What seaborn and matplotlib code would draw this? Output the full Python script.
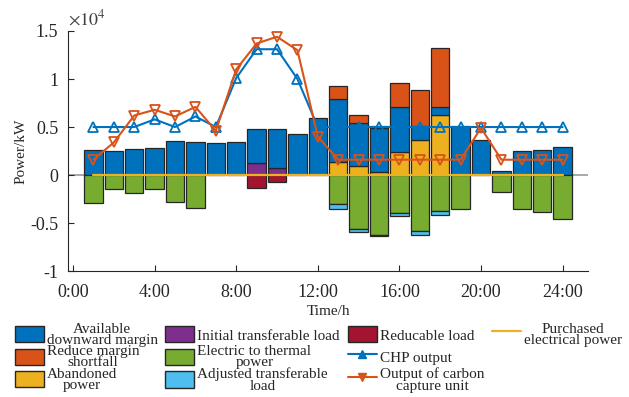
import numpy as np
import matplotlib
matplotlib.use("Agg")
import matplotlib.pyplot as plt
from matplotlib.patches import Patch, Rectangle
from matplotlib.lines import Line2D
from matplotlib.legend_handler import HandlerPatch
import seaborn as sns

# ---------------- data (kW) ----------------
hours = np.arange(1, 25)
abandoned = np.array([0, 0, 0, 0, 0, 0, 0, 0, 0, 0, 0, 0,
                      1400, 900, 300, 2400, 3700, 6250, 0, 0, 0, 0, 0, 0])
initial_transfer = np.array([0, 0, 0, 0, 0, 0, 0, 0, 1300, 700, 0, 0,
                             0, 0, 0, 0, 0, 0, 0, 0, 0, 0, 0, 0])
downward_margin = np.array([2600, 2500, 2700, 2800, 3500, 3400, 3300, 3400, 3500, 4100, 4300, 5900,
                            6500, 4500, 4600, 4650, 1400, 800, 5100, 3650, 450, 2500, 2600, 2900])
margin_shortfall = np.array([0, 0, 0, 0, 0, 0, 0, 0, 0, 0, 0, 0,
                             1400, 900, 200, 2500, 3800, 6150, 0, 0, 0, 0, 0, 0])
reducable = np.array([0, 0, 0, 0, 0, 0, 0, 0, -1300, -700, 0, 0,
                      0, 0, 0, 0, 0, 0, 0, 0, 0, 0, 0, 0])
elec_thermal = np.array([-2900, -1500, -1900, -1500, -2800, -3400, 0, 0, 0, 0, 0, 0,
                         -3000, -5600, -6200, -3900, -5800, -3750, -3500, 0, -1800, -3500, -3800, -4600])
adjusted_transfer = np.array([0, 0, 0, 0, 0, 0, 0, 0, 0, 0, 0, 0,
                              -500, -300, -150, -400, -450, -400, 0, 0, 0, 0, 0, 0])
chp_output = np.array([5000, 5000, 5000, 5800, 5000, 6100, 5000, 10100, 13100, 13100, 10000, 5000,
                       5000, 5000, 5000, 5000, 5000, 5000, 5000, 5000, 5000, 5000, 5000, 5000])
ccu_output = np.array([1600, 3400, 6200, 6800, 6100, 7100, 4600, 11000, 13700, 14400, 13000, 4000,
                       1600, 1600, 1600, 1600, 1600, 1600, 1600, 4900, 1600, 1600, 1600, 1600])
purchased = np.zeros(24)

xtick_pos = [0, 4, 8, 12, 16, 20, 24]
xtick_labels = ["0:00", "4:00", "8:00", "12:00", "16:00", "20:00", "24:00"]
ytick_pos = [-10000, -5000, 0, 5000, 10000, 15000]
ytick_labels = ["-1", "-0.5", "0", "0.5", "1", "1.5"]

labels = ["Available\ndownward margin", "Reduce margin\nshortfall", "Abandoned\npower",
          "Initial transferable load", "Electric to thermal\npower", "Adjusted transferable\nload",
          "Reducable load", "CHP output", "Output of carbon\ncapture unit",
          "Purchased\nelectrical power"]

# ---------------- style ----------------
sns.set_theme(style="ticks")
plt.rcParams["font.family"] = ["Liberation Serif", "DejaVu Serif"]
plt.rcParams["mathtext.fontset"] = "stix"

C_BLUE = "#0072BD"
C_ORANGE = "#D95319"
C_YELLOW = "#EDB120"
C_PURPLE = "#7E2F8E"
C_GREEN = "#77AC30"
C_LBLUE = "#4DBEEE"
C_RED = "#A2142F"
EDGE = "#262626"

fig = plt.figure(figsize=(6.29, 3.97), dpi=100)
ax = fig.add_axes([0.108, 0.317, 0.827, 0.605])

ax.axhline(0, color="#9a9a9a", lw=1.2, zorder=0.5)


def layer(values, bottom, color):
    m = values != 0
    sns.barplot(x=hours[m], y=values[m], bottom=bottom[m], native_scale=True,
                color=color, saturation=1, width=0.9, edgecolor=EDGE,
                linewidth=0.9, errorbar=None, ax=ax, zorder=2)


zeros = np.zeros(24)
base_pos = abandoned + initial_transfer
layer(abandoned, zeros, C_YELLOW)
layer(initial_transfer, zeros, C_PURPLE)
layer(downward_margin, base_pos, C_BLUE)
layer(margin_shortfall, base_pos + downward_margin, C_ORANGE)
layer(reducable, zeros, C_RED)
layer(elec_thermal, reducable, C_GREEN)
layer(adjusted_transfer, reducable + elec_thermal, C_LBLUE)

sns.lineplot(x=hours, y=purchased, color=C_YELLOW, lw=1.6, ax=ax, zorder=3)
sns.lineplot(x=hours, y=chp_output, color=C_BLUE, lw=1.5, marker="^", markersize=6.5,
             markerfacecolor="none", markeredgecolor=C_BLUE, markeredgewidth=1.3,
             ax=ax, zorder=4)
sns.lineplot(x=hours, y=ccu_output, color=C_ORANGE, lw=1.5, marker="v", markersize=6.5,
             markerfacecolor="none", markeredgecolor=C_ORANGE, markeredgewidth=1.3,
             ax=ax, zorder=5)

ax.set_xlim(-0.25, 25.25)
ax.set_ylim(-10000, 15000)
ax.set_xticks(xtick_pos)
ax.set_xticklabels(xtick_labels)
ax.set_yticks(ytick_pos)
ax.set_yticklabels(ytick_labels)
ax.tick_params(direction="in", length=4, width=0.8, color=EDGE, labelsize=13,
               labelcolor="#262626")
ax.tick_params(axis="x", pad=9)
ax.tick_params(axis="y", pad=7)
for s in ["left", "bottom"]:
    ax.spines[s].set_color(EDGE)
    ax.spines[s].set_linewidth(0.8)
sns.despine(ax=ax)
ax.set_xlabel("Time/h", fontsize=11, labelpad=3, color="#262626")
ax.set_ylabel("Power/kW", fontsize=11, labelpad=2, color="#262626")
ax.text(0.0, 1.01, r"$\times 10^{4}$", transform=ax.transAxes, fontsize=13,
        color="#404040", ha="left", va="bottom")


def small_patch(legend, orig_handle, xdescent, ydescent, width, height, fontsize):
    h = 1.05 * fontsize
    return Rectangle((-xdescent, -ydescent + (height - h) / 2 + 0.05 * fontsize), width, h)


handles = [
    Patch(facecolor=C_BLUE, edgecolor=EDGE),
    Patch(facecolor=C_ORANGE, edgecolor=EDGE),
    Patch(facecolor=C_YELLOW, edgecolor=EDGE),
    Patch(facecolor=C_PURPLE, edgecolor=EDGE),
    Patch(facecolor=C_GREEN, edgecolor=EDGE),
    Patch(facecolor=C_LBLUE, edgecolor=EDGE),
    Patch(facecolor=C_RED, edgecolor=EDGE),
    Line2D([], [], color=C_BLUE, lw=1.5, marker="^", markersize=6),
    Line2D([], [], color=C_ORANGE, lw=1.5, marker="v", markersize=6),
    Line2D([], [], color=C_YELLOW, lw=1.6),
    Patch(facecolor="none", edgecolor="none"),
    Patch(facecolor="none", edgecolor="none"),
]
leg_labels = labels + ["", ""]
leg = fig.legend(handles, leg_labels, loc="upper center", bbox_to_anchor=(0.506, 0.222),
                 ncol=4, frameon=False, fontsize=11, handlelength=1.9, handleheight=2.08,
                 columnspacing=0.5, labelspacing=-0.13, handletextpad=0.2,
                 handler_map={Patch: HandlerPatch(patch_func=small_patch)})
for t in leg.get_texts():
    t.set_multialignment("center")
    t.set_linespacing(0.82)
    t.set_color("#262626")

fig.savefig("out.png", dpi=100)
